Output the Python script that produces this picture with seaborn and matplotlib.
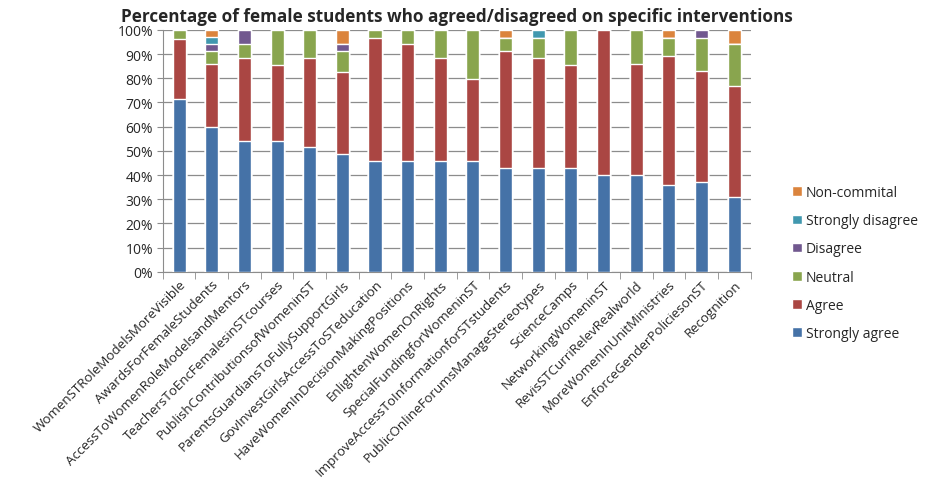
import numpy as np
import pandas as pd
import seaborn as sns
import matplotlib.pyplot as plt
from matplotlib.patches import Patch
from matplotlib.ticker import FixedLocator, PercentFormatter

categories = ['WomenSTRoleModelsMoreVisible', 'AwardsForFemaleStudents',
              'AccessToWomenRoleModelsandMentors', 'TeachersToEncFemalesinSTcourses',
              'PublishContributionsofWomeninST', 'ParentsGuardiansToFullySupportGirls',
              'GovInvestGirlsAccessToSTeducation', 'HaveWomenInDecisionMakingPositions',
              'EnlightenWomenOnRights', 'SpecialFundingforWomeninST',
              'ImproveAccessToInformationforSTstudents', 'PublicOnlineForumsManageStereotypes',
              'ScienceCamps', 'NetworkingWomeninST', 'RevisSTCurriRelevRealworld',
              'MoreWomenInUnitMinistries', 'EnforceGenderPoliciesonST', 'Recognition']

strongly_agree = [71.4, 60.0, 54.1, 54.1, 51.4, 48.6, 45.7, 45.7, 45.7, 45.7, 42.9, 42.9, 42.9, 40.0, 40.0, 35.7, 37.1, 31.0]
agree = [25.0, 25.7, 34.1, 31.2, 37.0, 34.0, 51.0, 48.4, 42.5, 34.0, 48.3, 45.4, 42.5, 60.0, 45.7, 53.3, 45.7, 45.9]
neutral = [3.6, 5.7, 5.9, 14.7, 11.6, 8.6, 3.3, 5.9, 11.8, 20.3, 5.6, 8.5, 14.6, 0.0, 14.3, 7.8, 14.0, 17.1]
disagree = [0, 2.9, 5.9, 0, 0, 2.9, 0, 0, 0, 0, 0, 0, 0, 0, 0, 0, 3.2, 0]
strongly_disagree = [0, 2.8, 0, 0, 0, 0, 0, 0, 0, 0, 0, 3.2, 0, 0, 0, 0, 0, 0]
non_commital = [0, 2.9, 0, 0, 0, 5.9, 0, 0, 0, 0, 3.2, 0, 0, 0, 0, 3.2, 0, 6.0]

series = ['Strongly agree', 'Agree', 'Neutral', 'Disagree', 'Strongly disagree', 'Non-commital']
colors = ['#4572A7', '#AA4643', '#89A54E', '#71588F', '#4198AF', '#DB843D']

df = pd.DataFrame({'Strongly agree': strongly_agree, 'Agree': agree, 'Neutral': neutral,
                   'Disagree': disagree, 'Strongly disagree': strongly_disagree,
                   'Non-commital': non_commital}, index=categories)
# normalise each row to 100%
df = df.div(df.sum(axis=1), axis=0) * 100
cum = df.cumsum(axis=1)

sns.set_style('white')
plt.rcParams['font.family'] = ['Open Sans', 'DejaVu Sans']

fig = plt.figure(figsize=(9.3, 4.89), dpi=100)
ax = fig.add_axes([0.175, 0.442, 0.632, 0.495])

# draw from the top layer down so each stack shows through
for name, col in zip(reversed(series), reversed(colors)):
    sns.barplot(x=categories, y=cum[name].values, color=col, width=0.4,
                saturation=1, ax=ax, zorder=3)

ax.set_ylim(0, 100)
ax.set_xlim(-0.5, len(categories) - 0.5)
ax.set_yticks(np.arange(0, 101, 10))
ax.yaxis.set_major_formatter(PercentFormatter(decimals=0))
ax.grid(axis='y', color='#8c8c8c', linewidth=0.9, zorder=0)
ax.set_axisbelow(True)
for s in ['top', 'right']:
    ax.spines[s].set_visible(False)
for s in ['left', 'bottom']:
    ax.spines[s].set_color('#8c8c8c')
ax.tick_params(axis='y', length=4, color='#8c8c8c', labelsize=10, pad=3, left=True)
ax.tick_params(axis='x', which='major', length=0, pad=4)
ax.xaxis.set_minor_locator(FixedLocator(np.arange(-0.5, len(categories), 1)))
ax.tick_params(axis='x', which='minor', length=5, color='#8c8c8c', bottom=True)
ax.set_xticks(range(len(categories)))
ax.set_xticklabels(categories, rotation=45, ha='right', rotation_mode='anchor', fontsize=9.6)

ax.set_title('Percentage of female students who agreed/disagreed on specific interventions',
             fontsize=12.3, fontweight='bold', pad=6, x=0.5)

handles = [Patch(facecolor=c, label=s) for s, c in zip(reversed(series), reversed(colors))]
fig.legend(handles=handles, loc='upper left', bbox_to_anchor=(0.838, 0.645), frameon=False,
           fontsize=10, handlelength=0.7, handleheight=0.7, handletextpad=0.3, labelspacing=0.95)

fig.savefig('out.png', dpi=100)
